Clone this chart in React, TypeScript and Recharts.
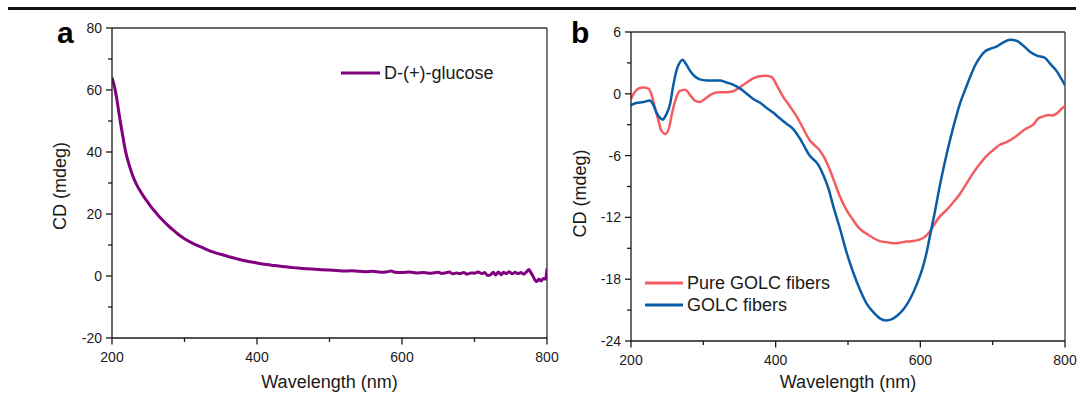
import { LineChart, Line, XAxis, YAxis, ReferenceLine, Legend, Label } from 'recharts'

// panel a: D-(+)-glucose
const glucoseWl = [200, 203, 206, 209, 212, 215, 218, 221, 225, 230, 235, 240, 245, 250, 255, 260, 265, 270, 275, 280, 285, 290, 295, 300, 310, 320, 330, 340, 350, 360, 370, 380, 390, 400, 410, 420, 430, 440, 450, 460, 470, 480, 490, 500, 510, 520, 530, 540, 550, 560, 570, 580, 585, 590, 600, 610, 620, 630, 640, 650, 655, 660, 665, 670, 675, 680, 685, 690, 695, 700, 705, 710, 714, 718, 722, 726, 729, 733, 737, 740, 744, 748, 752, 756, 760, 764, 768, 772, 775, 778, 781, 784, 786, 789, 792, 795, 798, 800]
const glucoseCd = [64, 61.5, 58, 53.5, 49, 45, 41, 38, 34.8, 31.5, 29, 27, 25.2, 23.6, 22, 20.6, 19.2, 18, 16.8, 15.7, 14.7, 13.7, 12.8, 12, 10.7, 9.6, 8.6, 7.7, 7, 6.3, 5.7, 5.1, 4.6, 4.2, 3.8, 3.5, 3.2, 3, 2.7, 2.5, 2.3, 2.2, 2, 1.9, 1.8, 1.6, 1.7, 1.5, 1.4, 1.5, 1.2, 1.4, 1.6, 1.2, 1.1, 1.3, 1, 1.1, 0.9, 1.2, 0.8, 1, 1.3, 0.7, 1, 0.8, 1.1, 0.6, 1, 0.9, 1.3, 0.8, 1.1, 0.2, 0.4, 1.2, 0.3, 1.3, 0.4, 1.2, 0.8, 1.4, 0.7, 1.2, 0.8, 1.1, 0.6, 1.4, 2.1, 1, -0.2, -1.5, -1.8, -1, -1.6, -0.8, -1, 2.4]

// panel b: Pure GOLC fibers (red) and GOLC fibers (blue)
const pureWl = [200, 205, 210, 217, 224, 228, 233, 238, 242, 248, 253, 257, 262, 267, 275, 281, 288, 295, 302, 311, 321, 332, 341, 351, 360, 369, 378, 387, 395, 401, 410, 420, 429, 438, 447, 454, 461, 468, 475, 482, 489, 498, 507, 516, 526, 535, 544, 553, 563, 572, 581, 590, 599, 606, 613, 620, 627, 636, 646, 655, 664, 673, 683, 692, 701, 710, 719, 729, 738, 747, 756, 763, 770, 777, 782, 789, 796, 800]
const pureCd = [-0.5, 0.15, 0.5, 0.6, 0.5, 0, -1.3, -2.6, -3.6, -3.9, -3.2, -1.8, -0.5, 0.25, 0.4, -0.05, -0.65, -0.8, -0.5, -0.05, 0.15, 0.15, 0.25, 0.65, 1.1, 1.5, 1.7, 1.75, 1.6, 0.9, -0.25, -1.25, -2.2, -3.35, -4.5, -5.0, -5.5, -6.3, -7.4, -8.7, -10, -11.3, -12.25, -13.1, -13.6, -14, -14.3, -14.4, -14.5, -14.45, -14.35, -14.3, -14.15, -13.9, -13.4, -12.6, -11.9, -11.3, -10.5, -9.7, -8.7, -7.7, -6.75, -6, -5.45, -4.95, -4.7, -4.3, -3.8, -3.35, -3, -2.4, -2.2, -2.05, -2.1, -1.9, -1.4, -1.2]
const golcWl = [200, 207, 217, 226, 231, 235, 241, 244, 248, 254, 258, 263, 268, 271, 276, 281, 288, 295, 305, 314, 323, 332, 341, 351, 360, 369, 378, 388, 397, 406, 415, 424, 434, 447, 459, 466, 473, 480, 489, 498, 507, 517, 526, 535, 544, 553, 560, 567, 577, 586, 595, 604, 609, 613, 620, 627, 634, 641, 648, 655, 662, 669, 676, 683, 690, 696, 706, 715, 724, 733, 742, 752, 761, 772, 779, 789, 795, 800]
const golcCd = [-1.1, -0.9, -0.8, -0.65, -1.1, -1.8, -2.4, -2.5, -2.1, -1, 0.65, 2.3, 3.1, 3.3, 2.9, 2.3, 1.7, 1.4, 1.3, 1.3, 1.3, 1.1, 0.9, 0.5, 0, -0.5, -0.85, -1.4, -1.85, -2.4, -2.9, -3.4, -4.4, -6, -6.9, -7.9, -9.2, -11, -13.1, -15.4, -17.3, -19.1, -20.4, -21.2, -21.8, -22, -21.9, -21.6, -20.9, -19.9, -18.5, -16.7, -15.3, -13.9, -11.5, -8.9, -6.6, -4.5, -2.6, -0.9, 0.4, 1.65, 2.8, 3.6, 4.15, 4.35, 4.6, 5, 5.25, 5.15, 4.7, 4.05, 3.7, 3.5, 2.95, 2.15, 1.45, 0.85]

// ticks
const xTicks = [200, 300, 400, 500, 600, 700, 800]
const xMajor = [200, 400, 600, 800]
const aTicks = [-20, -10, 0, 10, 20, 30, 40, 50, 60, 70, 80]
const aMajor = [-20, 0, 20, 40, 60, 80]
const bTicks = [-24, -21, -18, -15, -12, -9, -6, -3, 0, 3, 6]
const bMajor = [-24, -18, -12, -6, 0, 6]
const bLegendOrder = ['Pure GOLC fibers', 'GOLC fibers']

const FONT = '"Liberation Sans", Arial, Helvetica, sans-serif'
const INK = '#1a1a1a'

const zip = (xs: number[], ys: number[]) => xs.map((wl, i) => ({ wl, cd: ys[i] }))
const glucoseData = zip(glucoseWl, glucoseCd)
const pureData = zip(pureWl, pureCd)
const golcData = zip(golcWl, golcCd)

function XTick(props: any) {
  const { x, y, payload } = props
  const major = xMajor.includes(payload.value)
  return (
    <g>
      <line x1={x} y1={y} x2={x} y2={y + (major ? 6.5 : 4)} stroke={INK} strokeWidth={1.3} />
      {major && (
        <text x={x} y={y + 19} textAnchor="middle" dominantBaseline="central" fontSize={14} fill={INK} fontFamily={FONT}>
          {payload.value}
        </text>
      )}
    </g>
  )
}

function makeYTick(majors: number[]) {
  return (props: any) => {
    const { x, y, payload } = props
    const major = majors.includes(payload.value)
    return (
      <g>
        <line x1={x} y1={y} x2={x - (major ? 6 : 4)} y2={y} stroke={INK} strokeWidth={1.3} />
        {major && (
          <text x={x - 10} y={y} textAnchor="end" dominantBaseline="central" fontSize={14} fill={INK} fontFamily={FONT}>
            {payload.value}
          </text>
        )}
      </g>
    )
  }
}

function LegendBox({ payload, lineW, order }: any) {
  const items = [...(payload || [])]
  if (order) items.sort((p: any, q: any) => order.indexOf(p.value) - order.indexOf(q.value))
  return (
    <div style={{ fontFamily: FONT, fontSize: 18, color: INK }}>
      {items.map((entry: any) => (
        <div key={entry.value} style={{ display: 'flex', alignItems: 'center', height: 22 }}>
          <svg width={lineW} height={22}>
            <line x1={0} x2={lineW} y1={11} y2={11} stroke={entry.color} strokeWidth={3} />
          </svg>
          <span style={{ marginLeft: 4, lineHeight: '22px', whiteSpace: 'nowrap' }}>{entry.value}</span>
        </div>
      ))}
    </div>
  )
}

const axisLine = { stroke: INK, strokeWidth: 1.3 }
const titleProps = { fontSize: 18, fontFamily: FONT, fill: INK }

function PanelLetter({ text, left }: { text: string; left: number }) {
  return (
    <div style={{ position: 'absolute', left, top: 18, fontFamily: FONT, fontWeight: 'bold', fontSize: 30, lineHeight: '30px', color: '#000' }}>
      {text}
    </div>
  )
}

export default function App() {
  return (
    <div style={{ position: 'absolute', left: 0, top: 0, width: 1080, height: 394, background: '#fff', overflow: 'hidden' }}>
      <div style={{ position: 'absolute', left: 8, top: 7, width: 1068, height: 2.5, background: '#111' }} />

      <div style={{ position: 'absolute', left: 0, top: 0 }}>
        <LineChart width={560} height={394} margin={{ top: 28, right: 13, bottom: 55, left: 111 }}>
          <XAxis dataKey="wl" type="number" domain={[200, 800]} ticks={xTicks} interval={0} height={1}
            tickSize={0} tickMargin={0} tickLine={false} axisLine={axisLine} tick={XTick} allowDataOverflow>
            <Label value="Wavelength (nm)" position="bottom" offset={36} {...titleProps} />
          </XAxis>
          <YAxis type="number" domain={[-20, 80]} ticks={aTicks} interval={0} width={1}
            tickSize={0} tickMargin={0} tickLine={false} axisLine={axisLine} tick={makeYTick(aMajor)} allowDataOverflow>
            <Label value="CD (mdeg)" angle={-90} position="center" dx={-52} dy={3} {...titleProps} />
          </YAxis>
          <ReferenceLine y={80} stroke="#333" strokeWidth={1.3} />
          <ReferenceLine x={800} stroke="#333" strokeWidth={1.3} />
          <Legend layout="vertical" verticalAlign="middle" align="center"
            wrapperStyle={{ left: 341, top: 62, width: 'auto' }}
            content={(p: any) => <LegendBox payload={p.payload} lineW={39} />} />
          <Line data={glucoseData} dataKey="cd" name="D-(+)-glucose" type="monotone" stroke="#800080"
            strokeWidth={3} dot={false} activeDot={false} isAnimationActive={false} />
        </LineChart>
      </div>

      <div style={{ position: 'absolute', left: 540, top: 0 }}>
        <LineChart width={540} height={394} margin={{ top: 32, right: 15, bottom: 52, left: 90 }}>
          <XAxis dataKey="wl" type="number" domain={[200, 800]} ticks={xTicks} interval={0} height={1}
            tickSize={0} tickMargin={0} tickLine={false} axisLine={axisLine} tick={XTick} allowDataOverflow>
            <Label value="Wavelength (nm)" position="bottom" offset={33} {...titleProps} />
          </XAxis>
          <YAxis type="number" domain={[-24, 6]} ticks={bTicks} interval={0} width={1}
            tickSize={0} tickMargin={0} tickLine={false} axisLine={axisLine} tick={makeYTick(bMajor)} allowDataOverflow>
            <Label value="CD (mdeg)" angle={-90} position="center" dx={-51} dy={7} {...titleProps} />
          </YAxis>
          <ReferenceLine y={6} stroke="#333" strokeWidth={1.3} />
          <ReferenceLine x={800} stroke="#333" strokeWidth={1.3} />
          <Legend layout="vertical" verticalAlign="middle" align="center"
            wrapperStyle={{ left: 105, top: 272, width: 'auto' }}
            content={(p: any) => <LegendBox payload={p.payload} lineW={38} order={bLegendOrder} />} />
          <Line data={pureData} dataKey="cd" name="Pure GOLC fibers" type="monotone" stroke="#f25d62"
            strokeWidth={2.5} dot={false} activeDot={false} isAnimationActive={false} />
          <Line data={golcData} dataKey="cd" name="GOLC fibers" type="monotone" stroke="#0b5ca6"
            strokeWidth={2.5} dot={false} activeDot={false} isAnimationActive={false} />
        </LineChart>
      </div>

      <PanelLetter text="a" left={57} />
      <PanelLetter text="b" left={571} />
    </div>
  )
}
